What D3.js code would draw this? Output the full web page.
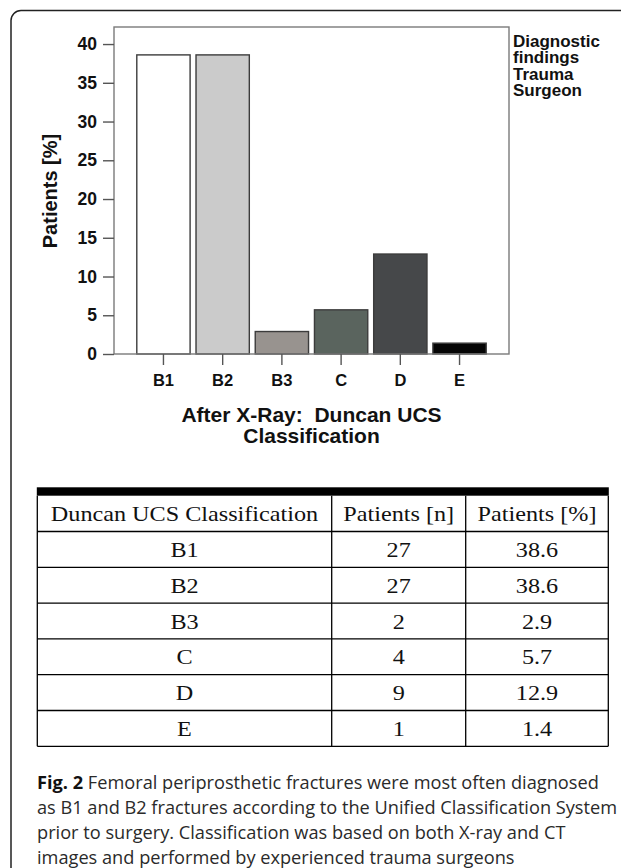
<!DOCTYPE html>
<head>
    <meta charset="utf-8">
    <script src="https://d3js.org/d3.v7.min.js"></script>
</head>
<style>
    body { margin: 0; background: #fff; }
    .chart text { font-family: "Liberation Sans", Arial, sans-serif; font-weight: bold; fill: #111; }
    .tbl text { font-family: "Liberation Serif", "Times New Roman", serif; fill: #111; }
    .cap text { font-family: "Open Sans", "Noto Sans", sans-serif; fill: #2a2a2a; }
</style>
<body>
    <div id="fig"></div>
</body>

<script>
    // data
    const categories = ["B1", "B2", "B3", "C", "D", "E"];
    const percents = [38.6, 38.6, 2.9, 5.7, 12.9, 1.4];
    const counts = [27, 27, 2, 4, 9, 1];
    const barColors = ["#ffffff", "#cbcbcb", "#98938f", "#5a645e", "#46484a", "#050505"];
    const yTicks = [0, 5, 10, 15, 20, 25, 30, 35, 40];
    const legendLines = ["Diagnostic", "findings", "Trauma", "Surgeon"];
    const xTitleLines = ["After X-Ray:  Duncan UCS", "Classification"];
    const tableHeader = ["Duncan UCS Classification", "Patients [n]", "Patients [%]"];
    const captionLines = [
        " Femoral periprosthetic fractures were most often diagnosed",
        "as B1 and B2 fractures according to the Unified Classification System",
        "prior to surgery. Classification was based on both X-ray and CT",
        "images and performed by experienced trauma surgeons"
    ];

    const W = 621, H = 868;
    const plot = {left: 114, right: 509, top: 27, bottom: 354};

    const svg = d3.select("#fig")
        .append("svg")
        .attr("width", W)
        .attr("height", H);

    // outer rounded frame (open to the right / bottom)
    svg.append("rect")
        .attr("x", 11).attr("y", 10.5)
        .attr("width", 700).attr("height", 950)
        .attr("rx", 10)
        .attr("fill", "none")
        .attr("stroke", "#222")
        .attr("stroke-width", 1.5);

    const chart = svg.append("g").attr("class", "chart");

    const x = d3.scaleBand()
        .domain(categories)
        .range([plot.left, plot.right])
        .paddingInner(0.1)
        .paddingOuter(0.385);

    const y = d3.scaleLinear()
        .domain([0, 42.2])
        .range([plot.bottom, plot.top]);

    // bars
    chart.selectAll(".bar")
        .data(categories)
        .join("rect")
        .attr("class", "bar")
        .attr("x", d => x(d))
        .attr("width", x.bandwidth())
        .attr("y", (d, i) => y(percents[i]))
        .attr("height", (d, i) => y(0) - y(percents[i]))
        .attr("fill", (d, i) => barColors[i])
        .attr("stroke", "#3c3c3c")
        .attr("stroke-width", 1.4);

    // plot frame
    chart.append("rect")
        .attr("x", plot.left).attr("y", plot.top)
        .attr("width", plot.right - plot.left)
        .attr("height", plot.bottom - plot.top)
        .attr("fill", "none")
        .attr("stroke", "#7a7a7a")
        .attr("stroke-width", 1.4);

    // y axis
    const yAxis = chart.append("g")
        .attr("transform", `translate(${plot.left},0)`)
        .call(d3.axisLeft(y).tickValues(yTicks).tickSize(11).tickPadding(6));
    yAxis.select(".domain").remove();
    yAxis.selectAll("line").attr("stroke", "#555").attr("stroke-width", 1.4);
    yAxis.selectAll("text").attr("font-size", 17.5).attr("font-family", null).attr("fill", "#111");

    // x axis
    const xAxis = chart.append("g")
        .attr("transform", `translate(0,${plot.bottom})`)
        .call(d3.axisBottom(x).tickSize(11).tickPadding(9));
    xAxis.select(".domain").remove();
    xAxis.selectAll("line").attr("stroke", "#555").attr("stroke-width", 1.4);
    xAxis.selectAll("text").attr("font-size", 16.5).attr("font-family", null).attr("fill", "#111");

    // axis titles
    chart.append("text")
        .attr("transform", `translate(57,191) rotate(-90)`)
        .attr("text-anchor", "middle")
        .attr("font-size", 20)
        .text("Patients [%]");

    chart.selectAll(".xtitle")
        .data(xTitleLines)
        .join("text")
        .attr("class", "xtitle")
        .attr("x", (plot.left + plot.right) / 2)
        .attr("y", (d, i) => 421.5 + i * 21)
        .attr("text-anchor", "middle")
        .attr("font-size", 21)
        .style("white-space", "pre")
        .text(d => d);

    // legend title
    chart.selectAll(".leg")
        .data(legendLines)
        .join("text")
        .attr("class", "leg")
        .attr("x", 513)
        .attr("y", (d, i) => 47 + i * 16.4)
        .attr("font-size", 17)
        .text(d => d);

    // table
    const tbl = svg.append("g").attr("class", "tbl");
    const colX = [37.3, 331.7, 465.7, 608.3];
    const barTop = 487.3, headTop = 495.7, rowH = 35.8;
    const rows = categories.map((c, i) => [c, String(counts[i]), d3.format(".1f")(percents[i])]);
    const allRows = [tableHeader].concat(rows);
    const tBottom = headTop + allRows.length * rowH;

    tbl.append("rect")
        .attr("x", colX[0] - 0.5).attr("y", barTop)
        .attr("width", colX[3] - colX[0] + 1).attr("height", headTop - barTop)
        .attr("fill", "#000");

    // horizontal lines
    tbl.selectAll(".hl")
        .data(d3.range(1, allRows.length + 1))
        .join("line")
        .attr("class", "hl")
        .attr("x1", colX[0]).attr("x2", colX[3])
        .attr("y1", i => headTop + i * rowH).attr("y2", i => headTop + i * rowH)
        .attr("stroke", "#000").attr("stroke-width", 1.3);

    // vertical lines
    tbl.selectAll(".vl")
        .data(colX)
        .join("line")
        .attr("class", "vl")
        .attr("x1", d => d).attr("x2", d => d)
        .attr("y1", headTop).attr("y2", tBottom)
        .attr("stroke", "#000").attr("stroke-width", 1.3);

    allRows.forEach((r, ri) => {
        r.forEach((cell, ci) => {
            const cx = (colX[ci] + colX[ci + 1]) / 2;
            const by = headTop + ri * rowH + rowH / 2 + 7.5;
            tbl.append("text")
                .attr("transform", `translate(${cx},${by}) scale(1.1,1)`)
                .attr("text-anchor", "middle")
                .attr("font-size", 22)
                .text(cell);
        });
    });

    // caption
    const cap = svg.append("g").attr("class", "cap");
    captionLines.forEach((line, i) => {
        const t = cap.append("text")
            .attr("x", 37)
            .attr("y", 789 + i * 25)
            .attr("font-size", 18.2);
        if (i === 0) {
            t.append("tspan").attr("font-weight", "bold").attr("fill", "#111").text("Fig. 2");
        }
        t.append("tspan").style("white-space", "pre").text(line);
    });
</script>
